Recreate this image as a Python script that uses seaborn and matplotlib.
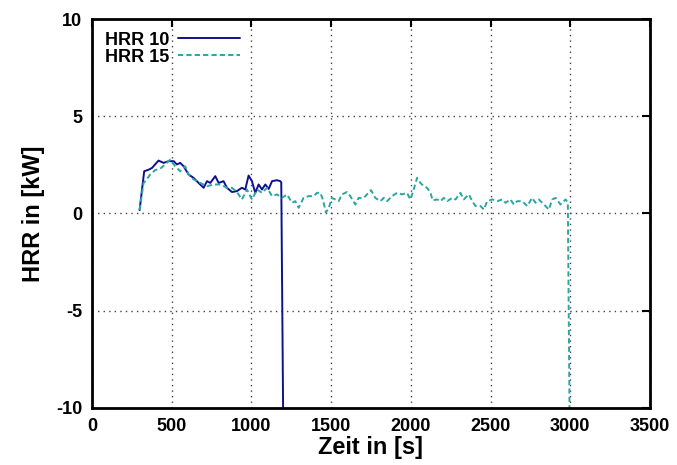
import numpy as np
import pandas as pd
import matplotlib
matplotlib.use("Agg")
import matplotlib.pyplot as plt
import seaborn as sns

# HRR 10 (solid)
t10 = [298, 327, 355, 376, 417, 449, 480, 512, 532, 553, 574, 606, 637, 668, 700,
       721, 742, 773, 794, 825, 846, 878, 909, 940, 961, 982, 1003, 1024, 1045,
       1066, 1087, 1108, 1129, 1160, 1181, 1187, 1200]
hrr10 = [0.17, 2.17, 2.25, 2.34, 2.72, 2.6, 2.69, 2.69, 2.52, 2.6, 2.43, 2.0, 1.83,
         1.57, 1.32, 1.66, 1.57, 1.92, 1.57, 1.66, 1.32, 1.1, 1.15, 1.32, 1.23,
         1.95, 1.66, 1.06, 1.49, 1.23, 1.49, 1.26, 1.66, 1.71, 1.66, 1.6, -11.5]

# HRR 15 (dashed)
t15 = [298, 323, 343, 364, 396, 427, 459, 490, 521, 553, 584, 606, 637, 679, 721,
       763, 805, 846, 878, 909, 940, 972, 1003, 1035, 1066, 1098, 1129, 1160,
       1192, 1223, 1254, 1275, 1296, 1327, 1359, 1390, 1411, 1432, 1448, 1467,
       1484, 1505, 1526, 1547, 1568, 1599, 1620, 1652, 1672, 1704, 1725, 1750,
       1777, 1809, 1830, 1851, 1882, 1913, 1945, 1976, 1997, 2018, 2039, 2060,
       2081, 2102, 2123, 2137, 2165, 2186, 2207, 2228, 2259, 2280, 2311, 2332,
       2364, 2385, 2406, 2437, 2458, 2479, 2511, 2542, 2573, 2594, 2625, 2646,
       2667, 2699, 2730, 2761, 2782, 2803, 2835, 2866, 2887, 2908, 2939, 2971,
       2985, 2997]
hrr15 = [0.17, 1.57, 1.75, 2.0, 2.23, 2.3, 2.52, 2.77, 2.43, 2.17, 2.43, 2.0, 1.75,
         1.57, 1.4, 1.49, 1.49, 1.32, 1.32, 1.1, 0.72, 1.23, 0.72, 1.23, 1.06,
         1.32, 0.89, 0.98, 0.8, 0.98, 0.55, 0.63, 0.29, 0.8, 0.89, 0.89, 1.06,
         1.06, 0.72, 0.05, 0.26, 0.8, 0.72, 0.63, 0.98, 1.1, 0.89, 0.46, 0.8,
         0.8, 0.98, 1.2, 0.8, 0.63, 0.8, 0.63, 0.89, 1.06, 0.98, 1.06, 0.72,
         1.23, 1.83, 1.57, 1.4, 1.32, 1.06, 0.67, 0.72, 0.63, 0.8, 0.63, 0.8,
         0.72, 1.06, 0.72, 0.98, 0.63, 0.38, 0.38, 0.2, 0.63, 0.72, 0.63, 0.72,
         0.55, 0.72, 0.46, 0.63, 0.63, 0.38, 0.8, 0.55, 0.72, 0.46, 0.2, 0.72,
         0.8, 0.46, 0.72, 0.55, -11.5]

xticks = [0, 500, 1000, 1500, 2000, 2500, 3000, 3500]
yticks = [-10, -5, 0, 5, 10]

sns.set_style("white")
plt.rcParams['font.family'] = ['Liberation Sans', 'DejaVu Sans']
plt.rcParams['font.weight'] = 'bold'
plt.rcParams['axes.unicode_minus'] = False
for k in ['text.color', 'axes.labelcolor', 'xtick.color', 'ytick.color']:
    plt.rcParams[k] = 'black'

df10 = pd.DataFrame({'t': t10, 'hrr': hrr10})
df15 = pd.DataFrame({'t': t15, 'hrr': hrr15})

fig, ax = plt.subplots(figsize=(6.77, 4.65), dpi=100)
fig.subplots_adjust(left=0.136, right=0.960, top=0.959, bottom=0.123)

sns.lineplot(data=df10, x='t', y='hrr', ax=ax, sort=False, estimator=None,
             color='#10108f', lw=1.4, label='HRR 10')
sns.lineplot(data=df15, x='t', y='hrr', ax=ax, sort=False, estimator=None,
             color='#2aa6a2', lw=1.4, label='HRR 15')
ax.lines[1].set_dashes([2.7, 1.6])

ax.set_xlim(0, 3500)
ax.set_ylim(-10, 10)
ax.set_xticks(xticks)
ax.set_yticks(yticks)
ax.grid(True, color='#444444', linestyle=(0, (1, 3)), lw=1.0)
for s in ax.spines.values():
    s.set_color('black')
    s.set_linewidth(2)
ax.tick_params(direction='in', top=True, right=True, length=6, width=1.5,
               labelsize=13, pad=7)
for lbl in ax.get_xticklabels() + ax.get_yticklabels():
    lbl.set_fontweight('bold')

ax.set_xlabel('Zeit in [s]', fontsize=17, fontweight='bold', labelpad=1)
ax.set_ylabel('HRR in [kW]', fontsize=17, fontweight='bold', labelpad=8)

leg = ax.legend(loc='upper left', frameon=False, markerfirst=False,
                prop={'size': 13, 'weight': 'bold'}, handlelength=3.4,
                borderaxespad=0.3, labelspacing=0.0, handletextpad=0.5)

fig.savefig('out.png', dpi=100)
